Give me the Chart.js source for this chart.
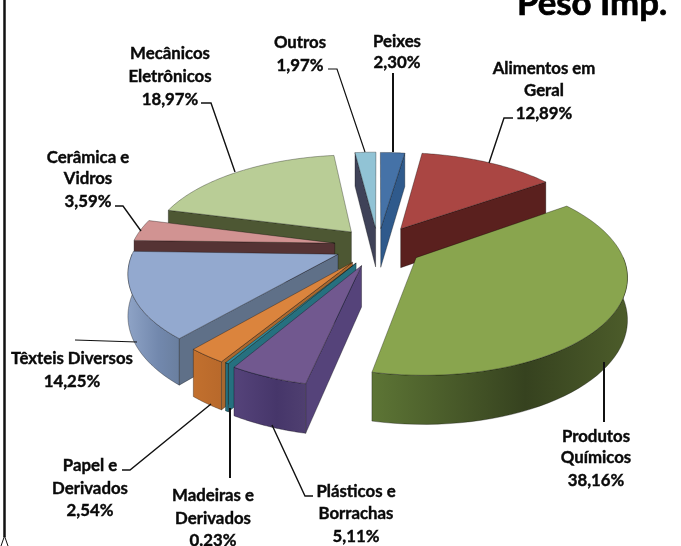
<!DOCTYPE html>
<html>
<head>
<meta charset="utf-8">
<title>Peso Imp.</title>
<script src="https://cdn.jsdelivr.net/npm/chart.js@4"></script>
<style>
  body { margin: 0; background: #fff; }
  canvas { display: block; }
</style>
</head>
<body>
<canvas id="grafico" width="681" height="546"></canvas>
<script>
// Dados
const categorias = ['Peixes', 'Alimentos em Geral', 'Produtos Químicos', 'Plásticos e Borrachas', 'Madeiras e Derivados', 'Papel e Derivados', 'Têxteis Diversos', 'Cerâmica e Vidros', 'Mecânicos Eletrônicos', 'Outros'];
const valores = [2.30, 12.89, 38.16, 5.11, 0.23, 2.54, 14.25, 3.59, 18.97, 1.97];
const textosPct = ['2,30%', '12,89%', '38,16%', '5,11%', '0.23%', '2,54%', '14,25%', '3,59%', '18,97%', '1,97%'];
const linhasRotulo = [['Peixes'], ['Alimentos em', 'Geral'], ['Produtos', 'Químicos'], ['Plásticos e', 'Borrachas'], ['Madeiras e', 'Derivados'], ['Papel e', 'Derivados'], ['Têxteis Diversos'], ['Cerâmica e', 'Vidros'], ['Mecânicos', 'Eletrônicos'], ['Outros']];

// Cores: topo, face de corte e parede externa
const coresTopo = ['#4572a7', '#aa4643', '#89a54e', '#71588f', '#2f8a9c', '#db843d', '#93a9cf', '#d19392', '#b9cd96', '#91c3d5'];
const coresCorte = ['#2f5a8c', '#5a201e', '#3f4e22', '#55437a', '#26707f', '#a9682f', '#5f7088', '#553334', '#4d5733', '#3f4258'];
const coresParede = [['#2f5a8c', '#2f5a8c'], ['#5a201e', '#5a201e'], ['#5d7535', '#36421f', '#4c5c2a'], ['#55437a', '#46366a', '#4f3f70'], ['#26707f', '#26707f'], ['#c2702e', '#b8692b'], ['#8ea3c6', '#7288ad', '#6a7f9f'], ['#553334', '#553334'], ['#4d5733', '#4d5733'], ['#3f4258', '#3f4258']];
// Deslocamento de cada fatia em relação ao centro
const explosao = [47, 54, 54, 53, 50, 51, 52, 53, 50, 48];

// Posição dos rótulos: centro x e y de cada linha
const posRotulos = [[397, [41, 62]], [544, [68, 90, 113]], [596, [436, 457, 480]], [356, [491, 513, 536]], [213, [495, 518, 540]], [90, [465, 488, 510]], [72, [358, 381]], [88, [157, 178, 201]], [170, [53, 76, 99]], [300, [42, 65]]];
// Linhas de chamada: largura e pontos
const linhasChamada = [
    [2, [393, 73], [393, 152]],
    [1.4, [513, 118], [504, 118], [489, 163]],
    [2, [604, 362], [604, 422]],
    [1.4, [313, 496], [305, 496], [272, 425]],
    [2, [230, 408], [230, 478]],
    [1.4, [122, 470], [130, 470], [211, 404]],
    [1.2, [75, 340], [137, 342]],
    [1.4, [115, 206], [123, 206], [141, 231]],
    [1.4, [201, 103], [211, 103], [235, 172]],
    [1.2, [328, 69], [337, 69], [365, 152]]
];

// Parâmetros da projeção em perspectiva
const Cx = 378, Cy = 246, Sx = 203, Sy = 94, k = 0.165, altura = 40;

function projeta(u, v, desce) {
    const w = 1 - k * v;
    return { x: Cx + Sx * u / w, y: Cy + Sy * v / w + (desce ? altura / w : 0) };
}

// Desenha cada fatia em 3D a partir dos ângulos calculados pelo Chart.js
const pizza3d = {
    id: 'pizza3d',
    beforeDatasetsDraw(chart) {
        const ctx = chart.ctx;
        const arcos = chart.getDatasetMeta(0).data.map(function (arc, i) {
            const meio = (arc.startAngle + arc.endAngle) / 2;
            const e = arc.options.offset / arc.outerRadius;
            return { i: i, a0: arc.startAngle, a1: arc.endAngle, meio: meio, ex: Math.cos(meio) * e, ey: Math.sin(meio) * e };
        });
        // fatias de trás primeiro
        arcos.sort(function (p, q) { return Math.sin(p.meio) - Math.sin(q.meio); });

        function caminho(pts) {
            ctx.beginPath();
            pts.forEach(function (p, n) { n ? ctx.lineTo(p.x, p.y) : ctx.moveTo(p.x, p.y); });
            ctx.closePath();
        }
        function pinta(pts, cor) {
            caminho(pts);
            ctx.fillStyle = cor;
            ctx.fill();
            ctx.strokeStyle = 'rgba(0,0,0,0.45)';
            ctx.lineWidth = 0.7;
            ctx.stroke();
        }

        arcos.forEach(function (f) {
            const ponto = function (a, r, desce) { return projeta(f.ex + Math.cos(a) * r, f.ey + Math.sin(a) * r, desce); };
            // faces de corte
            if (-Math.cos(f.a0) > 0) {
                pinta([ponto(f.a0, 0), ponto(f.a0, 1), ponto(f.a0, 1, true), ponto(f.a0, 0, true)], coresCorte[f.i]);
            }
            if (Math.cos(f.a1) > 0) {
                pinta([ponto(f.a1, 0), ponto(f.a1, 1), ponto(f.a1, 1, true), ponto(f.a1, 0, true)], coresCorte[f.i]);
            }
            // parede externa, só a parte da frente
            const ini = Math.max(f.a0, 0), fim = Math.min(f.a1, Math.PI);
            if (ini < fim) {
                const cima = [], baixo = [];
                for (let n = 0; n <= 40; n++) {
                    const a = ini + (fim - ini) * n / 40;
                    cima.push(ponto(a, 1));
                    baixo.unshift(ponto(a, 1, true));
                }
                const xs = cima.map(function (p) { return p.x; });
                const grad = ctx.createLinearGradient(Math.min.apply(null, xs), 0, Math.max.apply(null, xs), 0);
                const paleta = coresParede[f.i];
                paleta.forEach(function (c, n) {
                    grad.addColorStop(paleta.length === 3 && n === 1 ? 0.6 : n / (paleta.length - 1), c);
                });
                pinta(cima.concat(baixo), grad);
            }
            // topo
            const topo = [ponto(f.a0, 0)];
            for (let n = 0; n <= 60; n++) {
                topo.push(ponto(f.a0 + (f.a1 - f.a0) * n / 60, 1));
            }
            pinta(topo, coresTopo[f.i]);
        });
        return false;
    },
    afterDraw(chart) {
        const ctx = chart.ctx;
        ctx.save();
        // borda esquerda, com a bifurcação embaixo
        ctx.strokeStyle = '#111';
        ctx.lineWidth = 2.5;
        ctx.beginPath();
        ctx.moveTo(4.5, 0);
        ctx.lineTo(4.5, 537);
        ctx.stroke();
        ctx.lineWidth = 1;
        ctx.beginPath();
        ctx.moveTo(1, 546);
        ctx.lineTo(4.5, 536);
        ctx.lineTo(8, 546);
        ctx.stroke();

        // linhas de chamada
        linhasChamada.forEach(function (l) {
            ctx.lineWidth = l[0];
            ctx.beginPath();
            l.slice(1).forEach(function (p, n) { n ? ctx.lineTo(p[0], p[1]) : ctx.moveTo(p[0], p[1]); });
            ctx.stroke();
        });

        // rótulos, com um traço fino para engrossar a letra
        ctx.fillStyle = '#0a0a0a';
        ctx.strokeStyle = '#0a0a0a';
        ctx.lineWidth = 0.4;
        ctx.textAlign = 'center';
        ctx.textBaseline = 'middle';
        ctx.font = 'bold 16.8px Lato';
        categorias.forEach(function (c, i) {
            const linhas = linhasRotulo[i].concat(textosPct[i]);
            linhas.forEach(function (t, n) {
                ctx.fillText(t, posRotulos[i][0], posRotulos[i][1][n] + 1);
                ctx.strokeText(t, posRotulos[i][0], posRotulos[i][1][n] + 1);
            });
        });

        // título cortado no topo
        ctx.fillStyle = '#000';
        ctx.strokeStyle = '#000';
        ctx.lineWidth = 0.7;
        ctx.textAlign = 'left';
        ctx.textBaseline = 'alphabetic';
        ctx.font = 'bold 34.8px Lato';
        ctx.fillText('Peso Imp.', 517, 15);
        ctx.strokeText('Peso Imp.', 517, 15);
        ctx.restore();
    }
};

new Chart(document.getElementById('grafico'), {
    type: 'pie',
    data: {
        labels: categorias,
        datasets: [{
            data: valores,
            backgroundColor: coresTopo,
            offset: explosao
        }]
    },
    options: {
        responsive: false,
        animation: false,
        plugins: { legend: { display: false }, tooltip: { enabled: false } }
    },
    plugins: [pizza3d]
});
</script>
</body>
</html>
